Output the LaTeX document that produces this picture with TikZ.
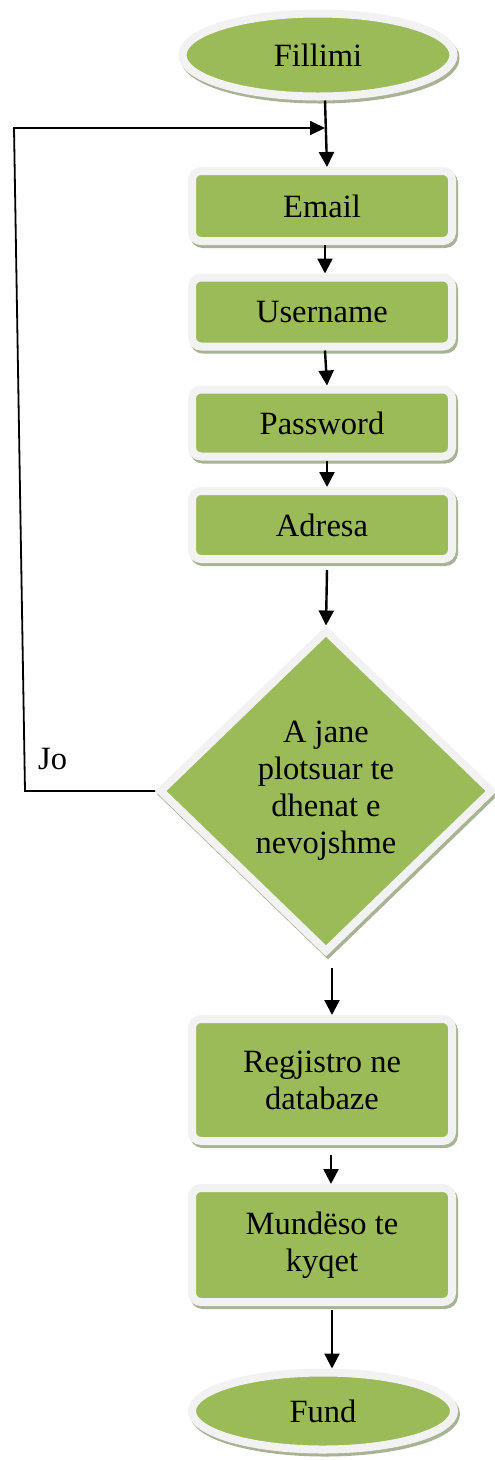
\documentclass[tikz,border=0pt]{standalone}
\usepackage{fontspec}
\setmainfont{Liberation Serif}
\usetikzlibrary{shapes.geometric,shadows,arrows.meta}
\definecolor{boxgreen}{HTML}{9BBB59}
\definecolor{rimc}{HTML}{F2F2F2}
\definecolor{shadc}{HTML}{A8B394}
\begin{document}
\begin{tikzpicture}[x=1pt,y=-1pt,
 every node/.style={font=\fontsize{32.5}{37}\selectfont},
 base/.style={fill=boxgreen, draw=rimc, line width=8pt, inner sep=0pt, align=center,
   drop shadow={shadow xshift=2pt, shadow yshift=-3pt, opacity=1, fill=shadc, draw=shadc, line width=8pt}},
 proc/.style={base, rectangle, rounded corners=9pt, minimum width=260pt},
 term/.style={base, ellipse},
 decision/.style={base, diamond},
 arr/.style={line width=2.4pt, -{Triangle[width=15pt,length=15pt]}},
 loopline/.style={line width=1.8pt, -{Triangle[width=14pt,length=15pt]}}]
\useasboundingbox (0,0) rectangle (495,1460);

\node[term, minimum width=271pt, minimum height=83pt] (start) at (318,55) {Fillimi};
\node[proc, minimum height=70pt] (email) at (322,206) {Email};
\node[proc, minimum height=69pt] (user) at (322,312) {Username};
\node[proc, minimum height=67pt] (pass) at (322,423) {Password};
\node[proc, minimum height=68pt] (addr) at (322,525) {Adresa};
\node[decision, minimum width=334pt, minimum height=323pt] (dec) at (326,791) {A jane\\plotsuar te\\dhenat e\\nevojshme};
\node[proc, minimum height=122pt] (reg) at (322,1080) {Regjistro ne\\databaze};
\node[proc, minimum height=114pt] (login) at (322,1245) {Mundëso te\\kyqet};
\node[term, minimum width=262pt, minimum height=77pt] (end) at (323,1411) {Fund};
\node[anchor=base west, inner sep=0pt] (jo) at (38,769) {Jo};

\coordinate (lb) at (25,791);
\coordinate (lt) at (14,128);
\coordinate (m) at (325,128);

\draw[arr] ([xshift=7pt]start.south) -- ([xshift=5pt]email.north);
\draw[arr] ([xshift=3pt]email.south) -- ([xshift=3pt]user.north);
\draw[arr] ([xshift=3pt]user.south) -- ([xshift=5pt]pass.north);
\draw[arr] ([xshift=5pt]pass.south) -- ([xshift=5pt]addr.north);
\draw[arr] ([xshift=5pt,yshift=-7pt]addr.south) -- (dec.north);
\draw[arr] ([xshift=6pt,yshift=-11pt]dec.south) -- ([xshift=10pt]reg.north);
\draw[arr] ([xshift=9pt,yshift=-10pt]reg.south) -- ([xshift=9pt]login.north);
\draw[arr] ([xshift=10pt,yshift=-4pt]login.south) -- ([xshift=9pt]end.north);
\draw[loopline] (dec.west) -- (lb) -- (lt) -- (m);
\end{tikzpicture}
\end{document}
